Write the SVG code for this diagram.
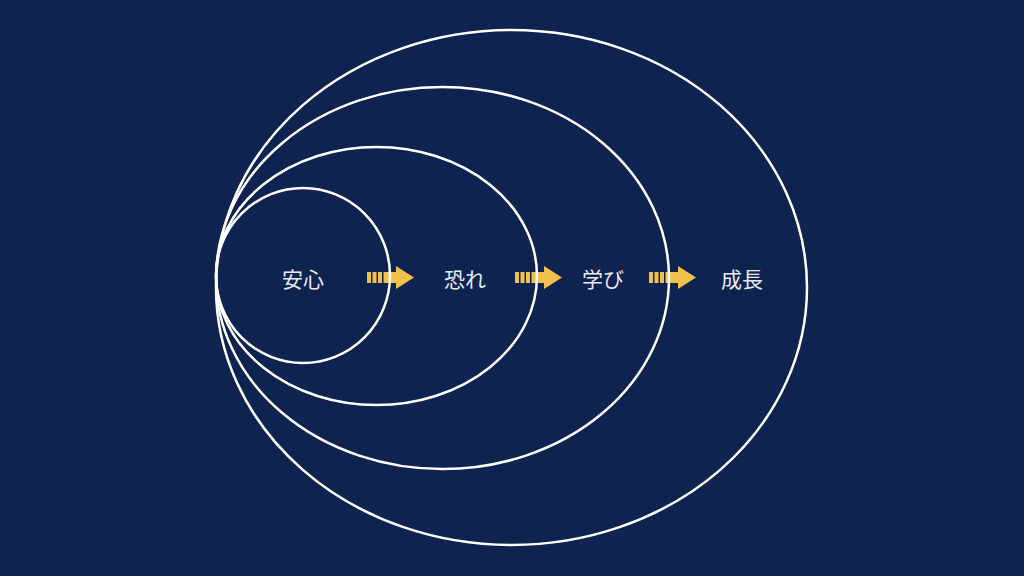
<svg xmlns="http://www.w3.org/2000/svg" width="1024" height="576" viewBox="0 0 1024 576">
<defs>
<style>
.ring{fill:none;stroke:#ffffff;stroke-width:2.5}
.lbl{font-family:"Noto Sans CJK JP","Noto Sans",sans-serif;font-size:21px;fill:#e8eaf0;text-anchor:middle;dominant-baseline:central}
.arr{fill:#f2c14b}
</style>
<g id="arrowShape">
<rect x="0" y="0" width="4" height="11"/>
<rect x="5.5" y="0" width="4" height="11"/>
<rect x="11" y="0" width="4" height="11"/>
<rect x="16.5" y="0" width="14" height="11"/>
<polygon points="29,-6 47,5.5 29,17"/>
</g>
</defs>
<rect width="1024" height="576" fill="#0e2350"/>
<g id="connectors" class="arr">
<use href="#arrowShape" x="367" y="272"/>
<use href="#arrowShape" x="515" y="272"/>
<use href="#arrowShape" x="649" y="272"/>
</g>
<g id="node-growth"><ellipse class="ring" cx="511.5" cy="287.5" rx="295.5" ry="257.5"/><text class="lbl" x="742" y="278">成長</text></g>
<g id="node-learning"><ellipse class="ring" cx="442.5" cy="278" rx="226.5" ry="191"/><text class="lbl" x="603" y="278">学び</text></g>
<g id="node-fear"><ellipse class="ring" cx="376.5" cy="276" rx="160.5" ry="129"/><text class="lbl" x="465" y="278">恐れ</text></g>
<g id="node-safety"><ellipse class="ring" cx="303" cy="275.5" rx="87" ry="87.5"/><text class="lbl" x="303" y="278">安心</text></g>
</svg>
